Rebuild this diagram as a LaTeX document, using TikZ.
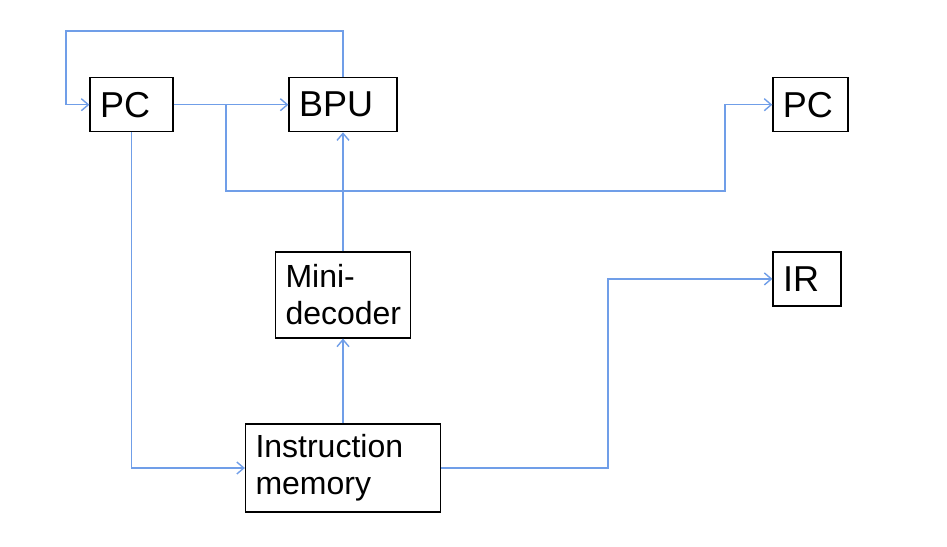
\documentclass[tikz,border=0pt]{standalone}
\usepackage{fontspec}
\setmainfont{Liberation Sans}
\usepackage{tikz}
\usetikzlibrary{positioning,arrows.meta}

\definecolor{wireblue}{RGB}{112,158,232}

\tikzset{
  blk/.style={draw=black, line width=1.2pt, inner xsep=10pt, inner ysep=2pt,
    align=left, font=\fontsize{36}{40}\selectfont},
  twoline/.style={font=\fontsize{32}{37}\selectfont},
  wire/.style={draw=wireblue, line width=1.4pt},
}

\begin{document}
\begin{tikzpicture}[x=1pt,y=-1pt,on grid,>={Straight Barb[length=7pt,width=12pt]}]
\useasboundingbox (0,0) rectangle (947,546);

\node[blk, text width=63pt, minimum height=54pt] (pc) at (131.5,104.7) {PC};
\node[blk, text width=88pt, minimum height=54pt] (bpu) [right=211.5pt of pc] {BPU};
\node[blk, text width=55pt, minimum height=54pt] (pcout) [right=467.4pt of bpu] {PC};
\node[blk, twoline, text width=115pt, minimum height=86pt] (mini) [below=190.3pt of bpu] {Mini-\\decoder};
\node[blk, twoline, text width=175pt, minimum height=88pt] (im) [below=173pt of mini] {Instruction\\memory};
\node[blk, text width=48pt, minimum height=54pt] (ir) at (807,278.9) {IR};

\coordinate (loop) at (66,31);
\coordinate (split) at (226,104.7);
\coordinate (jog) at (725,191);
\coordinate (turn) at (608,278.9);

\path[wire,->]
  (bpu.north) |- (loop) |- (pc.west);
\path[wire,->] (pc) -- (bpu);
\path[wire,->] (split) |- (jog) |- (pcout.west);
\path[wire,->] (pc.south) |- (im.west);
\path[wire,->] (im) -- (mini);
\path[wire,->] (mini) -- (bpu);
\path[wire,->] (im.east) -| (turn) -- (ir.west);
\end{tikzpicture}
\end{document}
